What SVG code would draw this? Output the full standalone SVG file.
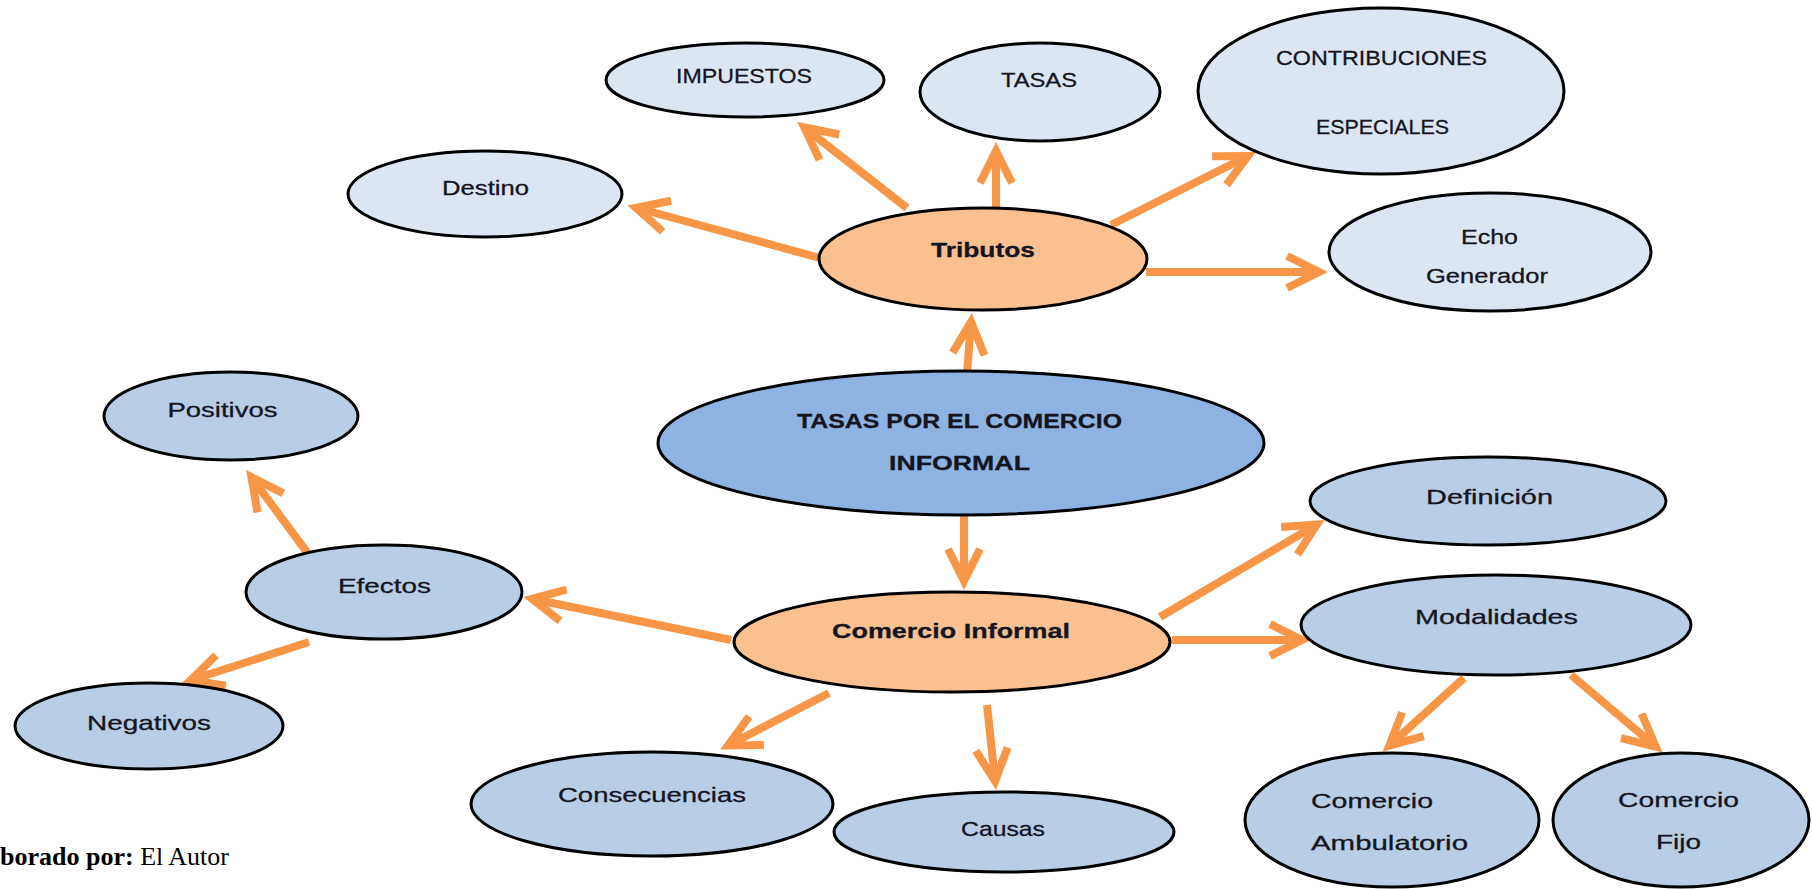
<svg xmlns="http://www.w3.org/2000/svg" width="1812" height="889" viewBox="0 0 1812 889">
<style>
.n{stroke:#000;stroke-width:3}
.l1{fill:#DCE6F2}
.l2{fill:#B9CDE5}
.c{fill:#8DB3E2}
.o{fill:#FAC090}
.t{font-family:"Liberation Sans",Arial,sans-serif;font-size:21px;fill:#15151f;stroke:#15151f;stroke-width:0.3;text-anchor:middle}
.b{font-weight:bold}
.s{text-anchor:start}
.e{stroke:#F79646;stroke-width:8;fill:none;marker-end:url(#ah)}
</style>
<defs>
<marker id="ah" markerUnits="userSpaceOnUse" orient="auto" markerWidth="100" markerHeight="100" viewBox="-50 -50 100 100" refX="0" refY="0" overflow="visible">
<path d="M-31,-16 L1,0 L-31,16" fill="none" stroke="#F79646" stroke-width="8" stroke-linejoin="miter"/>
</marker>
</defs>
<rect width="1812" height="889" fill="#fff"/>
<g id="connectors">
<line class="e" x1="820" y1="258" x2="637" y2="208"/>
<line class="e" x1="907" y1="208" x2="805" y2="128"/>
<line class="e" x1="996" y1="210" x2="996" y2="152"/>
<line class="e" x1="1111" y1="225" x2="1247" y2="156.5"/>
<line class="e" x1="1146" y1="272" x2="1318" y2="272"/>
<line class="e" x1="967" y1="373" x2="971" y2="323"/>
<line class="e" x1="964" y1="514" x2="964" y2="580"/>
<line class="e" x1="731" y1="640" x2="533" y2="599"/>
<line class="e" x1="309" y1="555" x2="252" y2="478"/>
<line class="e" x1="309" y1="642" x2="191.5" y2="680"/>
<line class="e" x1="829" y1="693" x2="729" y2="745"/>
<line class="e" x1="987" y1="705" x2="995" y2="780"/>
<line class="e" x1="1160" y1="617" x2="1316" y2="525"/>
<line class="e" x1="1172" y1="640" x2="1301" y2="640"/>
<line class="e" x1="1464" y1="678" x2="1390" y2="745"/>
<line class="e" x1="1571" y1="675" x2="1655" y2="746"/>
</g>
<g id="impuestos"><ellipse class="n l1" cx="745" cy="80" rx="139" ry="37"/><text class="t" x="744" y="83" textLength="136" lengthAdjust="spacingAndGlyphs">IMPUESTOS</text></g>
<g id="tasas"><ellipse class="n l1" cx="1040" cy="92" rx="120" ry="49"/><text class="t" x="1039" y="87" textLength="76" lengthAdjust="spacingAndGlyphs">TASAS</text></g>
<g id="contribuciones"><ellipse class="n l1" cx="1381" cy="91" rx="183" ry="83"/><text class="t" x="1381.5" y="65" textLength="211" lengthAdjust="spacingAndGlyphs">CONTRIBUCIONES</text><text class="t" x="1382.5" y="134" textLength="133" lengthAdjust="spacingAndGlyphs">ESPECIALES</text></g>
<g id="echo"><ellipse class="n l1" cx="1490" cy="252" rx="161" ry="59"/><text class="t" x="1489.5" y="244" textLength="57" lengthAdjust="spacingAndGlyphs">Echo</text><text class="t" x="1487" y="283" textLength="122" lengthAdjust="spacingAndGlyphs">Generador</text></g>
<g id="destino"><ellipse class="n l1" cx="485" cy="194" rx="137" ry="43"/><text class="t" x="485.5" y="195" textLength="87" lengthAdjust="spacingAndGlyphs">Destino</text></g>
<g id="tributos"><ellipse class="n o" cx="983" cy="259" rx="164" ry="51"/><text class="t b" x="983" y="257" textLength="104" lengthAdjust="spacingAndGlyphs">Tributos</text></g>
<g id="centro"><ellipse class="n c" cx="961" cy="443" rx="303" ry="72"/><text class="t b" x="959.5" y="428" textLength="325" lengthAdjust="spacingAndGlyphs">TASAS POR EL COMERCIO</text><text class="t b" x="959.5" y="470" textLength="141" lengthAdjust="spacingAndGlyphs">INFORMAL</text></g>
<g id="positivos"><ellipse class="n l2" cx="231" cy="416" rx="127" ry="44"/><text class="t" x="222.5" y="417" textLength="110" lengthAdjust="spacingAndGlyphs">Positivos</text></g>
<g id="efectos"><ellipse class="n l2" cx="384" cy="592" rx="138" ry="47"/><text class="t" x="384.5" y="593" textLength="93" lengthAdjust="spacingAndGlyphs">Efectos</text></g>
<g id="negativos"><ellipse class="n l2" cx="149" cy="726" rx="134" ry="43"/><text class="t" x="149" y="730" textLength="124" lengthAdjust="spacingAndGlyphs">Negativos</text></g>
<g id="comercio-informal"><ellipse class="n o" cx="952" cy="642" rx="218" ry="50"/><text class="t b" x="951" y="638" textLength="238" lengthAdjust="spacingAndGlyphs">Comercio Informal</text></g>
<g id="consecuencias"><ellipse class="n l2" cx="652" cy="804" rx="181" ry="52"/><text class="t" x="652" y="802" textLength="188" lengthAdjust="spacingAndGlyphs">Consecuencias</text></g>
<g id="causas"><ellipse class="n l2" cx="1004" cy="832" rx="170" ry="40"/><text class="t" x="1003" y="836" textLength="84" lengthAdjust="spacingAndGlyphs">Causas</text></g>
<g id="definicion"><ellipse class="n l2" cx="1488" cy="501" rx="178" ry="44"/><text class="t" x="1489.5" y="504" textLength="127" lengthAdjust="spacingAndGlyphs">Definición</text></g>
<g id="modalidades"><ellipse class="n l2" cx="1496" cy="625" rx="195" ry="50"/><text class="t" x="1496.5" y="624" textLength="163" lengthAdjust="spacingAndGlyphs">Modalidades</text></g>
<g id="ambulatorio"><ellipse class="n l2" cx="1392" cy="820" rx="147" ry="67"/><text class="t s" x="1311" y="808" textLength="122" lengthAdjust="spacingAndGlyphs">Comercio</text><text class="t s" x="1311" y="850" textLength="157" lengthAdjust="spacingAndGlyphs">Ambulatorio</text></g>
<g id="fijo"><ellipse class="n l2" cx="1681" cy="820" rx="128" ry="67"/><text class="t" x="1678.5" y="807" textLength="121" lengthAdjust="spacingAndGlyphs">Comercio</text><text class="t" x="1678.5" y="849" textLength="45" lengthAdjust="spacingAndGlyphs">Fijo</text></g>
<text x="0" y="865" font-family="'Liberation Serif','Times New Roman',serif" font-size="26" fill="#000"><tspan font-weight="bold">borado por:</tspan> El Autor</text>
</svg>
